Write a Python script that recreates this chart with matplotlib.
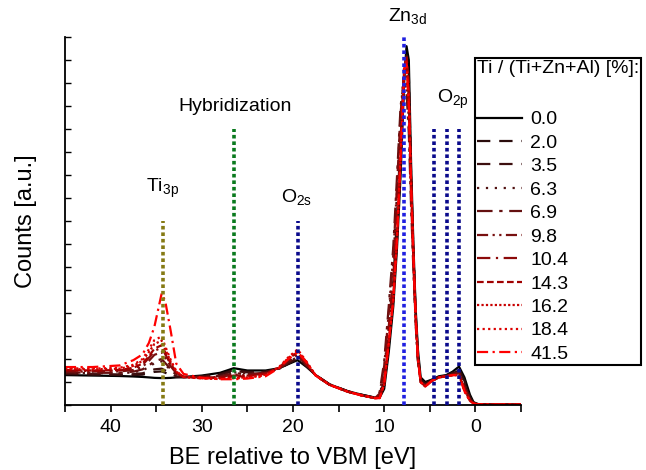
"""VB/shallow core-level XPS spectra of Ti-doped ZnO:Al films, BE relative to VBM."""

import matplotlib

matplotlib.use("Agg")
import matplotlib.pyplot as plt

plt.rcParams["font.family"] = ["Liberation Sans", "DejaVu Sans"]
plt.rcParams["mathtext.fontset"] = "custom"
plt.rcParams["mathtext.rm"] = "Liberation Sans"
plt.rcParams["mathtext.it"] = "Liberation Sans"

# binding energy grid [eV], shared by all spectra
energy = [45, 42, 39, 37.5, 36.5, 35.8, 35.2, 34.4, 34.0, 33.4,
          32.8, 32, 30, 28, 26.5, 25, 23, 21.5, 20.5, 19.5,
          18.5, 17.5, 16, 14, 12.5, 11,
          10.5, 10, 9.5, 9, 8.6, 8.2, 7.8, 7.55, 7.3,
          7.05, 6.8, 6.55, 6.3, 6.0,
          5.5, 4.8, 4, 3.2, 2.5,
          1.8, 1.2, 0.6, 0.2, -0.3,
          -2, -5]

ti_fraction = ["0.0", "2.0", "3.5", "6.3", "6.9", "9.8", "10.4", "14.3", "16.2", "18.4", "41.5"]

counts_00 = [1.30, 1.28, 1.26, 1.24, 1.22, 1.20, 1.18, 1.17, 1.17, 1.18,
             1.20, 1.22, 1.28, 1.40, 1.60, 1.50, 1.50, 1.60, 1.78, 1.95,
             1.65, 1.30, 0.90, 0.60, 0.45, 0.32,
             0.32, 0.70, 2.30, 4.30, 6.80, 10.0, 14.2, 15.6, 15.0,
             10.5, 7.0, 4.2, 2.4, 1.2,
             1.0, 1.1, 1.25, 1.3, 1.45,
             1.67, 1.2, 0.45, 0.12, 0.04,
             0.02, 0.02]
counts_20 = [1.34, 1.32, 1.30, 1.30, 1.32, 1.38, 1.44, 1.46, 1.40, 1.30,
             1.22, 1.20, 1.25, 1.35, 1.52, 1.45, 1.45, 1.58, 1.80, 2.00,
             1.68, 1.30, 0.90, 0.60, 0.45, 0.32,
             0.34, 0.85, 2.60, 4.60, 7.20, 10.6, 14.4, 15.2, 14.4,
             10.0, 6.8, 4.0, 2.2, 1.1,
             0.95, 1.08, 1.22, 1.28, 1.40,
             1.58, 1.05, 0.35, 0.10, 0.04,
             0.02, 0.02]
counts_35 = [1.36, 1.34, 1.33, 1.34, 1.38, 1.46, 1.55, 1.58, 1.50, 1.36,
             1.25, 1.21, 1.24, 1.32, 1.48, 1.42, 1.44, 1.58, 1.82, 2.05,
             1.70, 1.30, 0.90, 0.60, 0.44, 0.31,
             0.36, 1.10, 3.20, 5.40, 8.20, 11.6, 14.6, 14.9, 13.8,
             9.8, 6.6, 3.9, 2.1, 1.05,
             0.90, 1.08, 1.22, 1.28, 1.38,
             1.50, 0.95, 0.30, 0.09, 0.03,
             0.02, 0.02]
counts_63 = [1.40, 1.38, 1.38, 1.42, 1.50, 1.65, 1.82, 1.90, 1.75, 1.52,
             1.32, 1.22, 1.22, 1.28, 1.42, 1.38, 1.42, 1.58, 1.85, 2.10,
             1.72, 1.28, 0.88, 0.58, 0.43, 0.30,
             0.40, 1.40, 3.80, 6.20, 9.20, 12.6, 14.8, 14.6, 13.2,
             9.5, 6.4, 3.8, 2.0, 1.0,
             0.88, 1.06, 1.20, 1.27, 1.35,
             1.45, 0.85, 0.26, 0.08, 0.03,
             0.02, 0.02]
counts_69 = [1.42, 1.40, 1.40, 1.45, 1.55, 1.72, 1.90, 2.00, 1.82, 1.56,
             1.34, 1.22, 1.22, 1.26, 1.38, 1.35, 1.40, 1.58, 1.88, 2.12,
             1.72, 1.28, 0.88, 0.58, 0.42, 0.30,
             0.55, 1.90, 4.30, 6.90, 9.90, 13.0, 14.2, 13.6, 11.8,
             8.6, 5.9, 3.5, 1.9, 1.0,
             0.85, 1.05, 1.20, 1.26, 1.33,
             1.42, 0.80, 0.24, 0.07, 0.03,
             0.02, 0.02]
counts_98 = [1.46, 1.45, 1.46, 1.52, 1.66, 1.92, 2.18, 2.30, 2.05, 1.68,
             1.38, 1.22, 1.20, 1.22, 1.32, 1.30, 1.38, 1.60, 1.92, 2.18,
             1.75, 1.28, 0.88, 0.58, 0.42, 0.30,
             0.50, 1.70, 4.00, 6.50, 9.50, 12.7, 14.3, 14.0, 12.4,
             9.0, 6.1, 3.6, 1.95, 1.0,
             0.84, 1.04, 1.20, 1.25, 1.32,
             1.38, 0.75, 0.22, 0.07, 0.03,
             0.02, 0.02]
counts_104 = [1.50, 1.48, 1.50, 1.58, 1.74, 2.05, 2.35, 2.50, 2.20, 1.76,
              1.40, 1.22, 1.20, 1.20, 1.28, 1.28, 1.38, 1.62, 1.98, 2.25,
              1.78, 1.28, 0.88, 0.58, 0.42, 0.30,
              0.40, 1.20, 3.40, 5.60, 8.40, 11.8, 14.7, 14.9, 13.4,
              9.6, 6.5, 3.8, 2.0, 1.0,
              0.83, 1.04, 1.20, 1.25, 1.30,
              1.35, 0.72, 0.21, 0.06, 0.03,
              0.02, 0.02]
counts_143 = [1.52, 1.50, 1.52, 1.62, 1.80, 2.12, 2.45, 2.60, 2.28, 1.80,
              1.42, 1.22, 1.18, 1.18, 1.24, 1.25, 1.36, 1.62, 2.00, 2.30,
              1.80, 1.28, 0.88, 0.58, 0.42, 0.30,
              0.32, 0.95, 2.80, 4.70, 7.30, 10.9, 14.6, 15.2, 13.9,
              9.8, 6.6, 3.9, 2.05, 1.0,
              0.82, 1.04, 1.20, 1.25, 1.30,
              1.32, 0.68, 0.20, 0.06, 0.03,
              0.02, 0.02]
counts_162 = [1.56, 1.55, 1.58, 1.70, 1.92, 2.30, 2.65, 2.80, 2.42, 1.88,
              1.45, 1.22, 1.16, 1.15, 1.18, 1.20, 1.32, 1.65, 2.05, 2.38,
              1.85, 1.28, 0.88, 0.58, 0.42, 0.30,
              0.30, 0.90, 2.70, 4.60, 7.20, 10.8, 14.6, 15.0, 13.5,
              9.6, 6.5, 3.8, 2.0, 1.0,
              0.80, 1.05, 1.20, 1.25, 1.30,
              1.30, 0.62, 0.18, 0.06, 0.03,
              0.02, 0.02]
counts_184 = [1.60, 1.58, 1.62, 1.75, 2.00, 2.42, 2.82, 2.98, 2.55, 1.95,
              1.48, 1.22, 1.15, 1.13, 1.16, 1.18, 1.30, 1.66, 2.08, 2.42,
              1.88, 1.28, 0.88, 0.58, 0.42, 0.30,
              0.30, 0.90, 2.70, 4.60, 7.20, 10.8, 14.6, 14.9, 13.2,
              9.5, 6.5, 3.8, 2.0, 1.0,
              0.80, 1.05, 1.20, 1.25, 1.30,
              1.30, 0.60, 0.18, 0.06, 0.03,
              0.02, 0.02]
counts_415 = [1.65, 1.65, 1.72, 1.95, 2.20, 2.70, 3.40, 4.85, 4.50, 3.20,
              1.80, 1.35, 1.18, 1.12, 1.12, 1.15, 1.25, 1.62, 2.00, 2.30,
              1.85, 1.28, 0.88, 0.58, 0.42, 0.30,
              0.30, 0.90, 2.70, 4.60, 7.20, 10.8, 14.6, 14.8, 13.0,
              9.5, 6.5, 3.8, 2.0, 1.0,
              0.80, 1.05, 1.20, 1.25, 1.30,
              1.30, 0.60, 0.18, 0.06, 0.03,
              0.02, 0.02]

spectra = [counts_00, counts_20, counts_35, counts_63, counts_69, counts_98,
           counts_104, counts_143, counts_162, counts_184, counts_415]

colors = ["#000000", "#2a0c0c", "#3c0f0f", "#501212", "#641010", "#781010",
          "#8c0a0a", "#a00000", "#c80000", "#dc0000", "#ff0000"]
styles = ["-", (0, (6, 4)), (0, (6, 4)), (0, (1, 3)), (0, (7, 3, 1.5, 3)),
          (0, (5, 2, 1, 2, 1, 2)), (0, (6, 2.5, 1, 2.5)), (0, (3, 1.5)),
          (0, (1, 1)), (0, (1, 1.5)), (0, (5, 2, 1, 2))]

# reference level markers
marker_energy = [34.3, 26.45, 19.5, 7.85, 4.55, 3.1, 1.75]
marker_top = [8.0, 12.0, 8.0, 16.0, 12.0, 12.0, 12.0]
marker_color = ["#857a14", "#0a7a1e", "#0a0a8c", "#2020e0", "#0a0a8c", "#0a0a8c", "#0a0a8c"]

fig = plt.figure(figsize=(6.46, 4.70), dpi=100)
ax = fig.add_axes([0.1006, 0.1383, 0.7059, 0.7830])

for y, c, ls, lab in zip(spectra, colors, styles, ti_fraction):
    ax.plot(energy, y, color=c, linestyle=ls, lw=1.6, label=lab)

ax.vlines(marker_energy, 0, marker_top, colors=marker_color,
          linestyles=(0, (1, 0.8)), lw=2.6, zorder=5)

ax.text(34.3, 9.4, r"Ti$_{3p}$", ha="center", va="center", fontsize=14)
ax.text(26.4, 12.97, "Hybridization", ha="center", va="center", fontsize=14)
ax.text(19.6, 9.05, r"O$_{2s}$", ha="center", va="center", fontsize=14)
ax.text(7.4, 16.9, r"Zn$_{3d}$", ha="center", va="center", fontsize=14, clip_on=False)
ax.text(2.5, 13.3, r"O$_{2p}$", ha="center", va="center", fontsize=14)

ax.set_xlim(45, -5)
ax.set_ylim(0, 16)
ax.set_xticks([40, 30, 20, 10, 0])
ax.set_xticks([45, 35, 25, 15, 5, -5], minor=True)
ax.set_yticks(range(0, 17))
ax.set_yticklabels([])
ax.tick_params(axis="x", direction="out", length=5, width=1.2, labelsize=14, pad=5)
ax.tick_params(axis="x", which="minor", direction="out", length=5, width=1.2)
ax.tick_params(axis="y", direction="in", length=4, width=1.0)
for side in ("top", "right"):
    ax.spines[side].set_visible(False)
for side in ("left", "bottom"):
    ax.spines[side].set_linewidth(1.3)

ax.set_xlabel("BE relative to VBM [eV]", fontsize=17, labelpad=8)
ax.set_ylabel("Counts [a.u.]", fontsize=17, labelpad=17)

leg = ax.legend(title="Ti / (Ti+Zn+Al) [%]:\n", loc="upper left",
                bbox_to_anchor=(0.899, 0.943), borderaxespad=0,
                fontsize=14, title_fontsize=14,
                handlelength=2.3, handletextpad=0.45, labelspacing=0.3,
                fancybox=False, framealpha=1, edgecolor="black", borderpad=0.1)
leg._legend_box.align = "left"
leg.get_title().set_linespacing(1.85)
leg.get_frame().set_linewidth(1.5)
leg.set_zorder(10)

fig.savefig("out.png", dpi=100)
